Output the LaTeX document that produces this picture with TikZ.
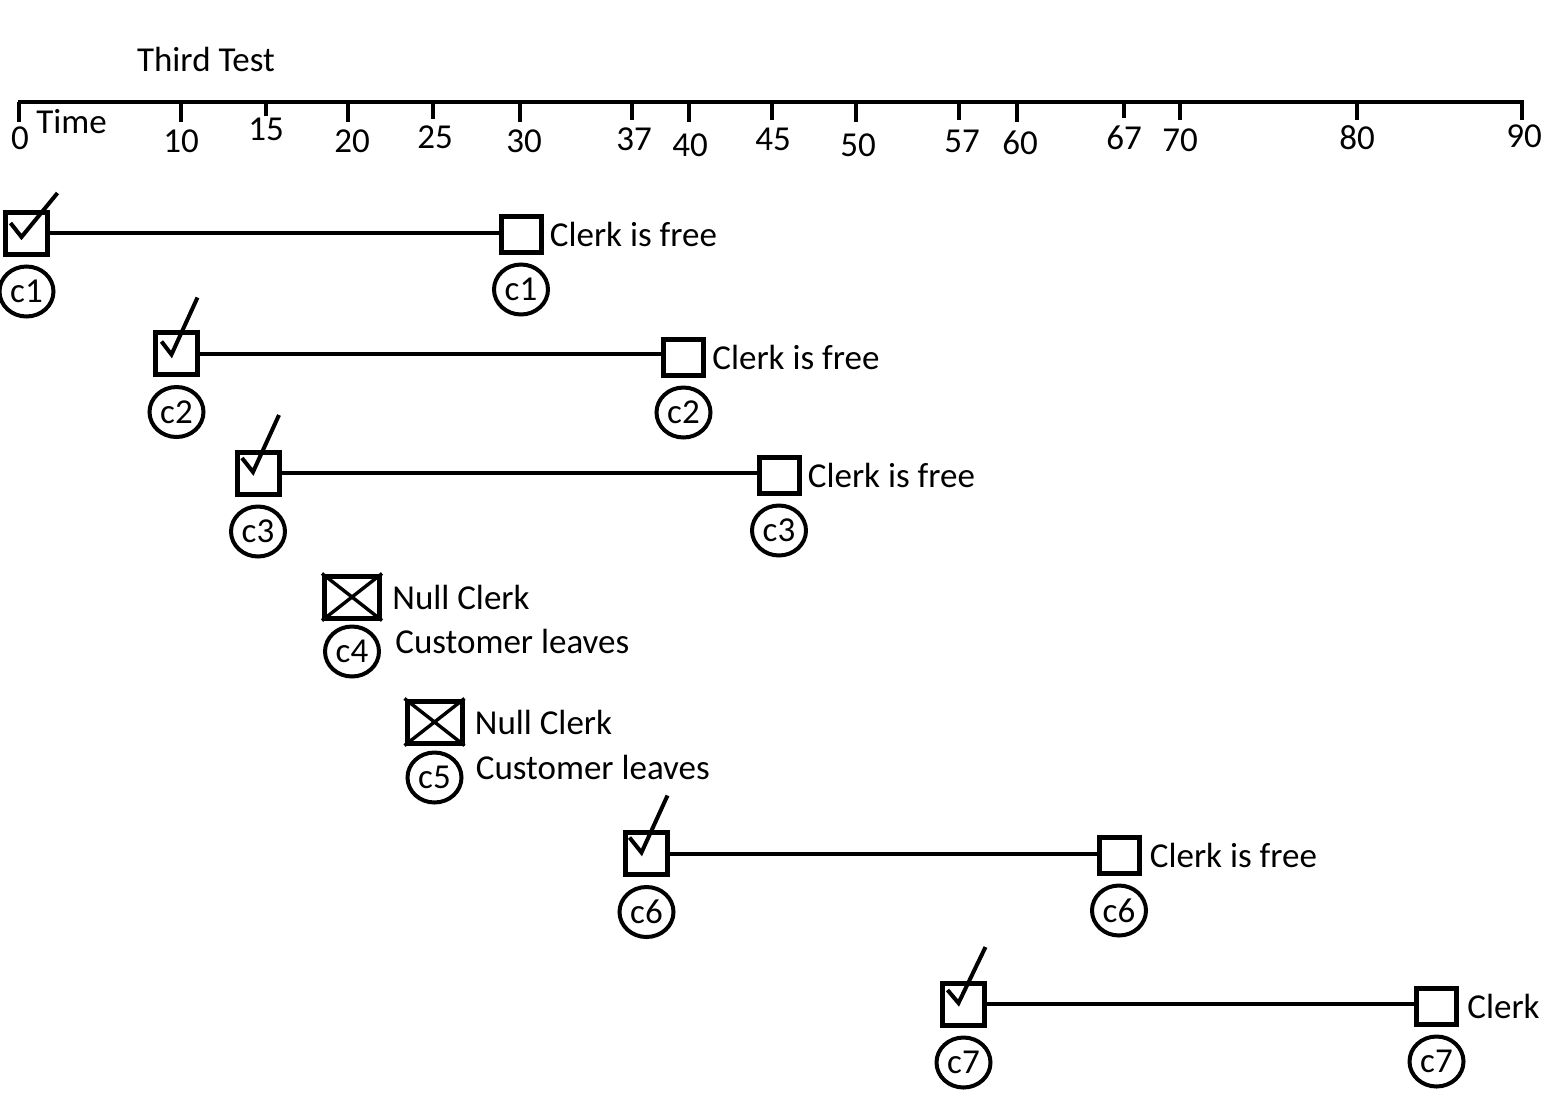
\documentclass[tikz,border=0pt]{standalone}
\usepackage{fontspec}
\setmainfont{Carlito}
\usetikzlibrary{shapes,positioning,calc}

\tikzset{
  slot/.style={draw,line width=2.5pt,minimum width=21pt,minimum height=21pt,inner sep=0pt},
  freeslot/.style={draw,line width=2.5pt,minimum width=20pt,minimum height=18pt,inner sep=0pt},
  nullslot/.style={draw,line width=2.5pt,minimum width=27.5pt,minimum height=21pt,inner sep=0pt},
  cust/.style={draw,ellipse,line width=2pt,minimum width=27pt,minimum height=25pt,inner sep=0pt},
  checkmark/.style={line width=2pt},
  wait/.style={line width=2pt},
  lbltext/.style={inner sep=1pt},
}

\begin{document}
\begin{tikzpicture}[x=0.5pt,y=-0.5pt,font=\fontsize{17.5pt}{20pt}\selectfont]
\useasboundingbox (0,0) rectangle (1547,1109);

% Time axis
\node (title) at (206,59) {Third Test};
\draw[line width=2pt] (18,102) -- (1524,102);
\foreach \x/\t/\lx/\ly/\len in {19/0/20/138/20, 181/10/181/141/20, 266/15/266/129/14,
    348/20/352/141/20, 433/25/435/137/17, 520/30/524/141/20, 632/37/634/139/18,
    689/40/690/145/20, 772/45/773/139/18, 856/50/858/145/20, 959/57/962/141/18,
    1017/60/1020/143/20, 1124/67/1124/138/16, 1180/70/1180/140/18, 1357/80/1357/138/18,
    1522/90/1524/136/18}
{
  \draw[line width=2pt] (\x,102) -- ++(0,\len);
  \node[inner sep=0pt] (t\t) at (\lx,\ly) {\t};
}
\node[anchor=west,inner sep=0pt] (time) at (36,122) {Time};

% Customer c1
\node[slot] (a1) at (26.5,233) {};
\node[freeslot,label={[lbltext,label distance=2pt]right:Clerk is free}] (f1) at (521,234) {};
\draw[wait] (a1) -- (f1.west |- a1);
\draw[checkmark] ([shift={(-16,-10)}]a1.center) -- ++(11,14) -- ++(36,-44);
\node[cust,below=4pt of a1] (c1a) {c1};
\node[cust,below=4pt of f1] (c1b) {c1};

% Customer c2
\node[slot] (a2) at (176.5,353.5) {};
\node[freeslot,label={[lbltext,label distance=2pt]right:Clerk is free}] (f2) at (683.5,357) {};
\draw[wait] (a2) -- (f2.west |- a2);
\draw[checkmark] ([shift={(-15,-12)}]a2.center) -- ++(10,13) -- ++(26,-57);
\node[cust,below=4pt of a2] (c2a) {c2};
\node[cust,below=4pt of f2] (c2b) {c2};

% Customer c3
\node[slot] (a3) at (258,473) {};
\node[freeslot,label={[lbltext,label distance=2pt]right:Clerk is free}] (f3) at (779,475) {};
\draw[wait] (a3) -- (f3.west |- a3);
\draw[checkmark] ([shift={(-16,-15)}]a3.center) -- ++(11,14) -- ++(26,-57);
\node[cust,below=4pt of a3] (c3a) {c3};
\node[cust,below=4pt of f3] (c3b) {c3};

% Customer c4
\node[nullslot,label={[lbltext,label distance=4pt]right:Null Clerk}] (n4) at (352,597) {};
\draw[line width=1.7pt] (n4.north west) -- (n4.south east) (n4.north east) -- (n4.south west);
\node[cust,below=2pt of n4] (c4) {c4};
\node[lbltext,right=6pt of c4,yshift=5pt] (l4) {Customer leaves};

% Customer c5
\node[nullslot,label={[lbltext,label distance=4pt]right:Null Clerk}] (n5) at (434.5,722) {};
\draw[line width=1.7pt] (n5.north west) -- (n5.south east) (n5.north east) -- (n5.south west);
\node[cust,below=2.5pt of n5] (c5) {c5};
\node[lbltext,right=5pt of c5,yshift=5pt] (l5) {Customer leaves};

% Customer c6
\node[slot] (a6) at (646.5,853.5) {};
\node[freeslot,label={[lbltext,label distance=3pt]right:Clerk is free}] (f6) at (1119,855) {};
\draw[wait] (a6) -- (f6.west |- a6);
\draw[checkmark] ([shift={(-17,-16)}]a6.center) -- ++(12,15) -- ++(26,-57);
\node[cust,below=4pt of a6] (c6a) {c6};
\node[cust,below=4pt of f6] (c6b) {c6};

% Customer c7
\node[slot] (a7) at (963.5,1004) {};
\node[freeslot,label={[lbltext,label distance=3pt]right:Clerk}] (f7) at (1436.5,1006) {};
\draw[wait] (a7) -- (f7.west |- a7);
\draw[checkmark] ([shift={(-16,-14)}]a7.center) -- ++(11,13) -- ++(27,-56);
\node[cust,below=4pt of a7] (c7a) {c7};
\node[cust,below=4pt of f7] (c7b) {c7};
\end{tikzpicture}
\end{document}
